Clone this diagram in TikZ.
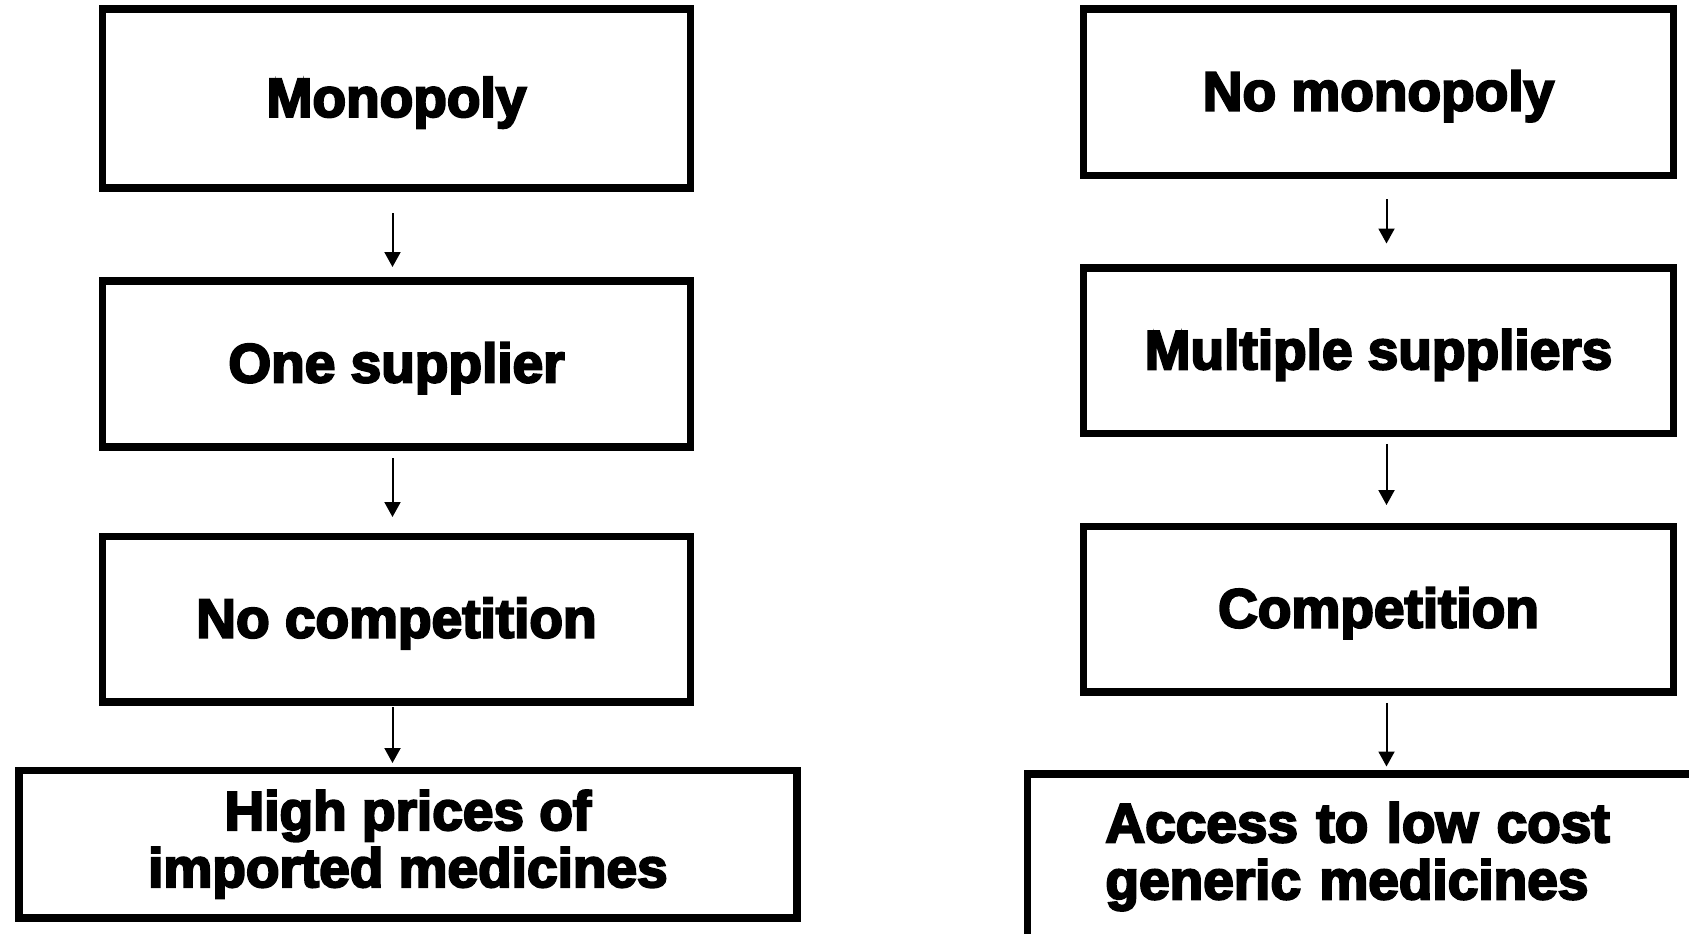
\documentclass[tikz,border=0pt]{standalone}
\usepackage{fontspec}
\newfontfamily\boxfont{Liberation Sans}[BoldFeatures={FakeBold=4}]
\usetikzlibrary{calc,arrows.meta}

\begin{document}
\begin{tikzpicture}[x=1pt, y=-1pt,
            box/.style={draw, line width=7.5pt, inner sep=0pt, align=center,
                font=\boxfont\bfseries\fontsize{55}{57}\selectfont},
            onebox/.style={box, text height=48pt},
            arr/.style={line width=2pt, -{Triangle[width=16pt, length=15pt]}}]
            \useasboundingbox (0, 0) rectangle (1689, 934);
            \clip (0, 0) rectangle (1689, 934);
            \node[onebox, minimum width=588pt, minimum height=179pt] (mono) at (396.5, 98.5) {Monopoly};
            \node[onebox, minimum width=588pt, minimum height=166pt] (onesup) at (396.5, 364) {One supplier};
            \node[onebox, minimum width=588pt, minimum height=165.5pt] (nocomp) at (396.5, 619.25) {No competition};
            \node[box, minimum width=777.7pt, minimum height=147.5pt] (highp) at (407.9, 844.25) {High prices of\\imported medicines};
            \node[onebox, minimum width=589.6pt, minimum height=166.3pt] (nomono) at (1378.5, 92.15) {No monopoly};
            \node[onebox, minimum width=589.6pt, minimum height=165.7pt] (multisup) at (1378.5, 350.85) {Multiple suppliers};
            \node[onebox, minimum width=589.6pt, minimum height=165.7pt] (comp) at (1378.5, 609.15) {Competition};
            \node[box, anchor=north west, align=left, text width=620pt, inner xsep=78pt, minimum height=165pt] (lowcost) at (1023.7, 770.3) {Access to low cost\\generic medicines};
            \draw[arr, shorten <=21.25pt, shorten >=10.25pt] ($(mono.south)+(-4, 0)$) -- ($(onesup.north)+(-4, 0)$);
            \draw[arr, shorten <=7.25pt, shorten >=15.75pt] ($(onesup.south)+(-4, 0)$) -- ($(nocomp.north)+(-4, 0)$);
            \draw[arr, shorten <=1.25pt, shorten >=3.75pt] ($(nocomp.south)+(-4, 0)$) -- ($(nocomp.south |- highp.north)+(-4, 0)$);
            \draw[arr, shorten <=20pt, shorten >=20.75pt] ($(nomono.south)+(8, 0)$) -- ($(multisup.north)+(8, 0)$);
            \draw[arr, shorten <=6.5pt, shorten >=17.5pt] ($(multisup.south)+(8, 0)$) -- ($(comp.north)+(8, 0)$);
            \draw[arr, shorten <=7pt, shorten >=3.8pt] ($(comp.south)+(8, 0)$) -- ($(comp.south |- lowcost.north)+(8, 0)$);
        \end{tikzpicture}
\end{document}
